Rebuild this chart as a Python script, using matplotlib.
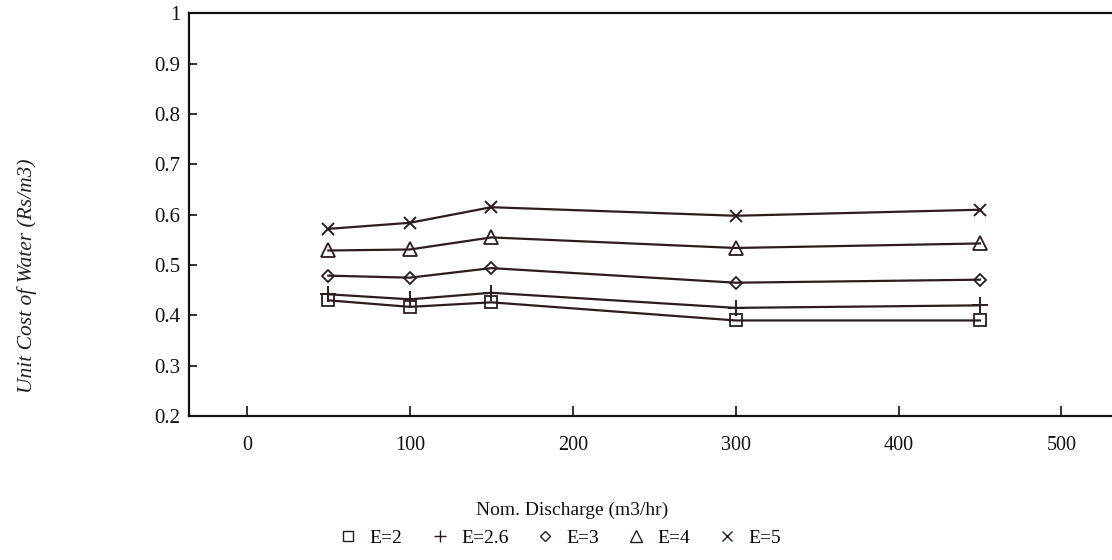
import matplotlib
matplotlib.use("Agg")
import matplotlib.pyplot as plt
from matplotlib.lines import Line2D

# Nominal discharge (m3/hr) and unit cost of water (Rs/m3) for each E value
discharge = [50, 100, 150, 300, 450]
series_labels = ["E=2", "E=2.6", "E=3", "E=4", "E=5"]
cost_e2 = [0.430, 0.417, 0.426, 0.390, 0.390]
cost_e26 = [0.442, 0.432, 0.445, 0.415, 0.420]
cost_e3 = [0.479, 0.475, 0.494, 0.465, 0.471]
cost_e4 = [0.529, 0.531, 0.555, 0.534, 0.543]
cost_e5 = [0.572, 0.584, 0.615, 0.598, 0.610]

x_ticks = [0, 100, 200, 300, 400, 500]
y_ticks = [0.2, 0.3, 0.4, 0.5, 0.6, 0.7, 0.8, 0.9, 1.0]
y_ticklabels = ["0.2", "0.3", "0.4", "0.5", "0.6", "0.7", "0.8", "0.9", "1"]

ink = "#2b1d1d"
plt.rcParams["font.family"] = ["Liberation Serif", "DejaVu Serif"]

fig = plt.figure(figsize=(11.12, 5.6), dpi=100)
ax = fig.add_axes([0.170, 0.257, 0.830, 0.719])

styles = [
    dict(marker="s", ms=9),
    dict(marker="+", ms=11, mew=1.4),
    dict(marker="D", ms=6.5),
    dict(marker="^", ms=10),
    dict(marker="x", ms=9, mew=1.4),
]
series = [cost_e2, cost_e26, cost_e3, cost_e4, cost_e5]

handles = []
for vals, lab, st in zip(series, series_labels, styles):
    ax.plot(discharge, vals, color=ink, lw=1.6, mfc="none", mec=ink,
            mew=st.get("mew", 1.3), marker=st["marker"], ms=st["ms"])
    handles.append(Line2D([], [], linestyle="none", marker=st["marker"],
                          ms=st["ms"] * 0.8, mfc="none", mec=ink,
                          mew=1.0, label=lab))

ax.set_xlim(-35.5, 531)
ax.set_ylim(0.2, 1.0)
ax.set_xticks(x_ticks)
ax.set_yticks(y_ticks)
ax.set_yticklabels(y_ticklabels)

for side in ("top", "left", "bottom"):
    ax.spines[side].set_linewidth(1.6)
    ax.spines[side].set_color("#111111")
ax.spines["right"].set_visible(False)

ax.tick_params(axis="x", direction="in", length=7, width=1.2, pad=14,
               labelsize=14.5, colors="#111111")
ax.tick_params(axis="y", direction="in", length=6, width=1.2, pad=6,
               labelsize=15, colors="#111111")

fig.text(572 / 1112, 1 - 510 / 560, "Nom. Discharge (m3/hr)",
         ha="center", va="center", fontsize=14, color="#111111")
fig.text(27 / 1112, 1 - 276 / 560, "Unit Cost of Water (Rs/m3)",
         ha="center", va="center", rotation=90, fontsize=15.5,
         style="italic", color="#222222")

fig.legend(handles=handles, loc="center", ncol=5, frameon=False,
           bbox_to_anchor=(560 / 1112, 1 - 538 / 560), fontsize=14,
           handlelength=1.0, handletextpad=0.6, columnspacing=1.4,
           borderpad=0, borderaxespad=0)

fig.savefig("out.png", dpi=100, facecolor="white")
